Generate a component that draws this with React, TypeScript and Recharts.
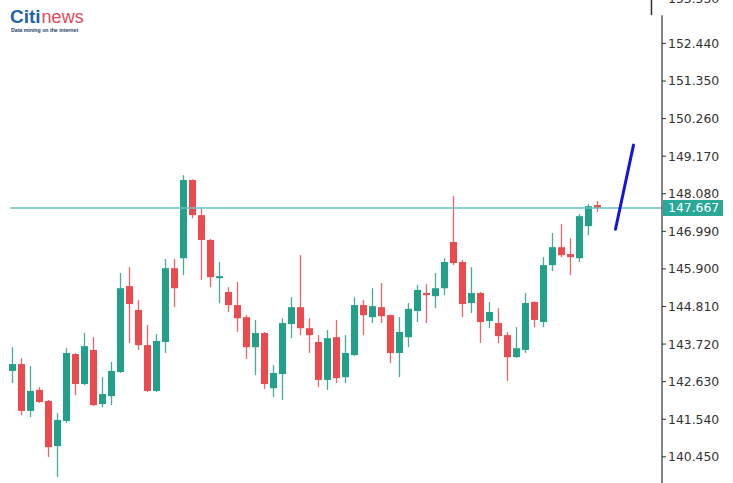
import React from 'react';
import { ComposedChart, Bar, XAxis, YAxis, ReferenceLine } from 'recharts';

const opens = [142.94, 143.14, 141.78, 142.39, 142.07, 140.76, 141.49, 143.43, 142.56, 143.55, 141.98, 142.21, 142.91, 145.40, 144.71, 143.69, 142.36, 143.78, 145.92, 146.21, 148.48, 147.46, 146.74, 145.63, 145.23, 144.85, 144.50, 143.63, 144.04, 142.44, 142.85, 144.30, 144.79, 144.18, 143.78, 142.68, 143.92, 142.76, 143.40, 144.85, 144.50, 144.79, 144.56, 143.46, 143.92, 144.68, 145.20, 145.11, 145.34, 146.68, 146.10, 144.91, 145.20, 144.39, 144.33, 143.98, 143.34, 143.55, 144.94, 144.36, 146.01, 146.53, 146.33, 146.21, 147.14, 147.75];
const highs = [143.63, 143.31, 143.08, 142.47, 142.10, 141.72, 143.60, 143.46, 144.04, 143.92, 142.76, 143.20, 145.78, 145.95, 145.00, 144.27, 144.01, 146.19, 146.19, 148.62, 148.50, 147.66, 146.77, 146.10, 145.37, 145.52, 144.56, 144.42, 144.07, 143.11, 144.47, 145.08, 146.30, 144.47, 143.98, 144.13, 144.42, 143.98, 145.08, 145.00, 145.34, 145.49, 144.58, 144.50, 144.91, 145.43, 145.46, 145.78, 146.21, 148.01, 146.16, 145.95, 145.23, 144.94, 144.76, 144.07, 144.21, 145.20, 144.96, 146.24, 146.94, 147.20, 146.79, 147.49, 147.78, 147.87];
const lows = [142.59, 141.66, 141.60, 142.01, 140.44, 139.86, 141.43, 142.24, 142.53, 141.92, 141.89, 141.95, 142.88, 143.75, 143.55, 142.33, 142.33, 143.46, 144.79, 145.72, 147.37, 145.58, 145.37, 144.91, 144.65, 144.07, 143.29, 142.82, 142.42, 142.18, 142.10, 143.89, 143.98, 143.46, 142.47, 142.39, 142.59, 142.59, 143.38, 143.98, 144.33, 144.33, 143.17, 142.76, 143.63, 144.36, 144.33, 144.76, 145.14, 146.01, 144.50, 144.62, 143.75, 144.18, 143.75, 142.65, 143.32, 143.46, 144.21, 144.21, 145.84, 146.24, 145.72, 146.10, 146.88, 147.55];
const closes = [143.14, 141.78, 142.36, 142.04, 140.73, 141.52, 143.46, 142.56, 143.66, 141.95, 142.27, 142.94, 145.34, 144.88, 143.69, 142.36, 143.81, 145.92, 145.34, 148.48, 147.46, 146.74, 145.66, 145.69, 144.85, 144.47, 143.63, 144.04, 142.56, 142.88, 144.33, 144.79, 144.18, 143.98, 142.68, 143.89, 142.73, 143.46, 144.85, 144.56, 144.82, 144.53, 143.46, 144.07, 144.74, 145.29, 145.14, 145.34, 146.10, 146.07, 144.88, 145.20, 144.36, 144.65, 143.95, 143.34, 143.60, 144.91, 144.42, 146.01, 146.53, 146.30, 146.24, 147.43, 147.72, 147.67];

const yTicks = [140.45, 141.54, 142.63, 143.72, 144.81, 145.9, 146.99, 147.667, 148.08, 149.17, 150.26, 151.35, 152.44, 153.53];
const lastPrice = 147.667;
const trendX = [67, 69];
const trendY = [147.05, 149.49];

const GREEN = '#22a08a';
const RED = '#eb4b4f';
const W = 733;
const H = 483;
const AXIS_W = 71;
const AXIS_X = W - AXIS_W;
const X_DOMAIN: [number, number] = [-0.5, 72.17];
const Y_DOMAIN: [number, number] = [139.69, 153.7];

const data = opens.map((o, i) => ({
  i,
  o,
  h: highs[i],
  l: lows[i],
  c: closes[i],
  range: [lows[i], highs[i]],
}));

const Candle = (props: any) => {
  const { x, y, width, height, payload } = props;
  if (!payload) return null;
  const { o, h, l, c } = payload;
  const up = c >= o;
  const color = up ? GREEN : RED;
  const top = Math.min(y, y + height);
  const hgt = Math.abs(height);
  const ratio = hgt / (h - l);
  const bt = top + (h - Math.max(o, c)) * ratio;
  const bb = top + (h - Math.min(o, c)) * ratio;
  const cx = x + width / 2;
  return (
    <g>
      <line x1={cx} x2={cx} y1={top} y2={top + hgt} stroke={color} strokeWidth={1.3} opacity={0.85} />
      <rect x={x} y={bt} width={width} height={Math.max(bb - bt, 1.5)} fill={color} />
    </g>
  );
};

const AxisTick = (props: any) => {
  const { y, payload } = props;
  const v = payload.value;
  const font = { fontFamily: 'DejaVu Sans', fontSize: 12.4 };
  if (Math.abs(v - lastPrice) < 1e-6) {
    return (
      <g>
        <rect x={AXIS_X + 1} y={y - 8} width={60} height={16} fill="#2aa897" />
        <text x={AXIS_X + 6} y={y} dy="0.36em" fill="#ffffff" {...font}>
          {v.toFixed(3)}
        </text>
      </g>
    );
  }
  const isTop = v === yTicks[yTicks.length - 1];
  return (
    <g>
      {!isTop && <line x1={AXIS_X} x2={AXIS_X + 4} y1={y} y2={y} stroke="#333" strokeWidth={1} />}
      <text x={AXIS_X + 6} y={isTop ? y - 7 : y} dy="0.36em" fill="#333" {...font}>
        {v.toFixed(3)}
      </text>
    </g>
  );
};

export default function App() {
  return (
    <div style={{ position: 'absolute', left: 0, top: 0, width: W, height: H, background: '#fff' }}>
      <ComposedChart width={W} height={H} data={data} margin={{ top: 0, right: 0, bottom: 0, left: 8 }}>
        <XAxis type="number" dataKey="i" domain={X_DOMAIN} hide allowDataOverflow />
        <YAxis
          orientation="right"
          width={AXIS_W}
          domain={Y_DOMAIN}
          ticks={yTicks}
          interval={0}
          allowDataOverflow
          axisLine={false}
          tickLine={false}
          tick={<AxisTick />}
        />
        <ReferenceLine
          segment={[{ x: -0.25, y: lastPrice }, { x: X_DOMAIN[1], y: lastPrice }]}
          stroke="#66c2c2"
          strokeWidth={1.5}
          ifOverflow="visible"
        />
        <Bar dataKey="range" barSize={7} shape={<Candle />} isAnimationActive={false} />
        <ReferenceLine
          segment={[{ x: trendX[0], y: trendY[0] }, { x: trendX[1], y: trendY[1] }]}
          stroke="#1414dc"
          strokeWidth={3}
          strokeLinecap="round"
          ifOverflow="visible"
        />
        <ReferenceLine
          segment={[{ x: X_DOMAIN[1], y: 153.26 }, { x: X_DOMAIN[1], y: Y_DOMAIN[0] }]}
          stroke="#333"
          strokeWidth={1.2}
          ifOverflow="visible"
        />
        <ReferenceLine
          segment={[{ x: 71, y: Y_DOMAIN[1] }, { x: 71, y: 153.26 }]}
          stroke="#333"
          strokeWidth={1.5}
          ifOverflow="visible"
        />
      </ComposedChart>
      <div style={{ position: 'absolute', left: 10, top: 8, height: 18, lineHeight: '18px', whiteSpace: 'nowrap' }}>
        <span style={{ fontFamily: 'Liberation Sans', fontWeight: 'bold', fontSize: 19, color: '#2062b0' }}>Citi</span>
        <span style={{ fontFamily: 'Liberation Sans', fontSize: 18, color: '#e6475a', marginLeft: 1 }}>news</span>
      </div>
      <div
        style={{
          position: 'absolute',
          left: 11,
          top: 27,
          fontFamily: 'Liberation Sans',
          fontWeight: 'bold',
          fontSize: 5.2,
          color: '#1b3b70',
          whiteSpace: 'nowrap',
          lineHeight: '6px',
        }}
      >
        Data mining on the internet
      </div>
    </div>
  );
}
